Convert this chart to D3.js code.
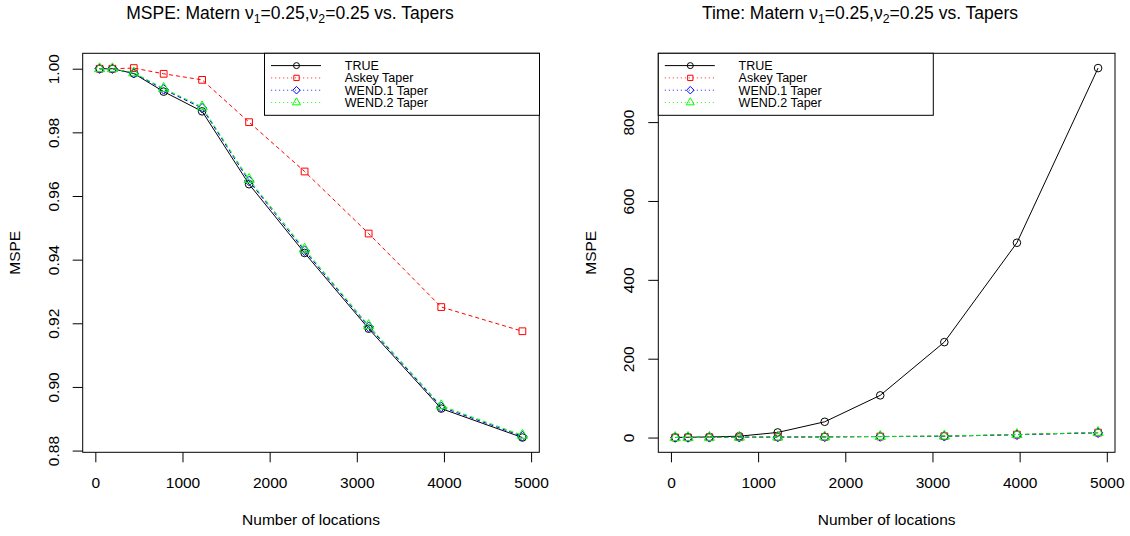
<!DOCTYPE html>
<html>
<head>
<meta charset="utf-8">
<script src="https://cdn.jsdelivr.net/npm/d3@7"></script>
<style>
  html, body { margin: 0; padding: 0; background: #fff; }
  svg { display: block; font-family: "Liberation Sans", Arial, Helvetica, sans-serif; }
</style>
</head>
<body>
<svg id="chart" width="1130" height="536"></svg>
<script>
// Number of spatial locations (grid sizes)
const locations = [49, 196, 441, 784, 1225, 1764, 2401, 3136, 3969, 4900];

// Mean squared prediction error
const mspeTrue  = [1.0000, 1.0000, 0.9985, 0.9928, 0.9866, 0.9637, 0.9421, 0.9183, 0.8932, 0.8841];
const mspeAskey = [1.0000, 1.0000, 1.0002, 0.9984, 0.9965, 0.9832, 0.9677, 0.9482, 0.9251, 0.9175];
const mspeWend1 = [1.0000, 1.0000, 0.9986, 0.9935, 0.9876, 0.9647, 0.9428, 0.9189, 0.8937, 0.8845];
const mspeWend2 = [1.0000, 1.0000, 0.9987, 0.9938, 0.9880, 0.9652, 0.9433, 0.9193, 0.8941, 0.8848];

// Computation time
const timeTrue  = [0.2, 0.8, 1.5, 3.5, 13, 40, 107, 242, 494, 937];
const timeAskey = [0.1, 0.3, 0.6, 0.9, 1.3, 1.8, 2.6, 3.5, 7.5, 12.5];
const timeWend1 = [0.1, 0.2, 0.5, 0.8, 1.2, 1.7, 2.5, 3.3, 7.2, 12.2];
const timeWend2 = [0.1, 0.3, 0.6, 0.9, 1.3, 1.9, 2.8, 3.8, 7.8, 13.0];

const seriesNames = ["TRUE", "Askey Taper", "WEND.1 Taper", "WEND.2 Taper"];
const xTicks = [0, 1000, 2000, 3000, 4000, 5000];
const mspeTicks = [0.88, 0.90, 0.92, 0.94, 0.96, 0.98, 1.00];
const timeTicks = [0, 200, 400, 600, 800];

const styles = [
  { color: "#000000", dash: null,  legendDash: null,      shape: "circle" },
  { color: "#FF0000", dash: "4,3", legendDash: "1.2,2.8", shape: "square" },
  { color: "#0000FF", dash: "4,3", legendDash: "1.2,2.8", shape: "diamond" },
  { color: "#00FF00", dash: "4,3", legendDash: "1.2,2.8", shape: "triangle" }
];

const svg = d3.select("#chart");
const FONT_TICK = 15.5, FONT_LAB = 15.5, FONT_MAIN = 17.5, FONT_LEG = 12.5;

// R-style plotting symbols scaled from a base radius
function symbolPath(shape, R) {
  const p = d3.path();
  if (shape === "circle") {
    p.moveTo(R, 0); p.arc(0, 0, R, 0, 2 * Math.PI);
  } else if (shape === "square") {
    const s = R * 0.886;
    p.rect(-s, -s, 2 * s, 2 * s);
  } else if (shape === "diamond") {
    const s = R * 1.253;
    p.moveTo(0, -s); p.lineTo(s, 0); p.lineTo(0, s); p.lineTo(-s, 0); p.closePath();
  } else {
    const r = R * 1.555, xc = r * Math.sqrt(3) / 2, yc = r / 2;
    p.moveTo(0, -r); p.lineTo(xc, yc); p.lineTo(-xc, yc); p.closePath();
  }
  return p.toString();
}

function padded(vals) {
  const lo = d3.min(vals), hi = d3.max(vals), r = hi - lo;
  return [lo - 0.04 * r, hi + 0.04 * r];
}

function drawPanel(cfg) {
  const { x0, x1, y0, y1 } = cfg.box;
  const g = svg.append("g");

  const x = d3.scaleLinear().domain(padded(locations)).range([x0, x1]);
  const y = d3.scaleLinear().domain(padded(cfg.series.flat())).range([y1, y0]);

  // series lines and symbols
  const line = d3.line().x((d, i) => x(locations[i])).y(d => y(d));
  cfg.series.forEach((vals, k) => {
    const st = styles[k];
    g.append("path")
      .attr("d", line(vals))
      .attr("fill", "none")
      .attr("stroke", st.color)
      .attr("stroke-width", 1)
      .attr("stroke-dasharray", st.dash);
    g.selectAll(null).data(vals).enter().append("path")
      .attr("transform", (d, i) => `translate(${x(locations[i])},${y(d)})`)
      .attr("d", symbolPath(st.shape, 3.8))
      .attr("fill", "none")
      .attr("stroke", st.color)
      .attr("stroke-width", 1);
  });

  // x axis
  const xa = g.append("g").attr("transform", `translate(0,${y1})`)
    .call(d3.axisBottom(x).tickValues(xTicks).tickSize(10).tickFormat(d3.format("d")));
  xa.select(".domain").remove();
  xa.selectAll("text").attr("y", 35.5).attr("dy", null)
    .attr("font-size", FONT_TICK).attr("font-family", null).attr("fill", "#000");

  // y axis with rotated labels
  const ya = g.append("g").attr("transform", `translate(${x0},0)`)
    .call(d3.axisLeft(y).tickValues(cfg.yTicks).tickSize(10).tickFormat(cfg.yFormat));
  ya.select(".domain").remove();
  ya.selectAll("text")
    .attr("x", null).attr("dy", "0.35em")
    .attr("transform", "translate(-29.5,0) rotate(-90)")
    .attr("text-anchor", "middle")
    .attr("font-size", FONT_TICK).attr("font-family", null).attr("fill", "#000");
  g.selectAll(".tick line").attr("stroke", "#000");

  // plot frame
  g.append("rect").attr("x", x0).attr("y", y0).attr("width", x1 - x0).attr("height", y1 - y0)
    .attr("fill", "none").attr("stroke", "#000").attr("stroke-width", 1);

  // titles
  const t = g.append("text").attr("x", cfg.titleX).attr("y", 19)
    .attr("text-anchor", "middle").attr("font-size", FONT_MAIN);
  t.append("tspan").text(cfg.titlePrefix + " Matern ");
  t.append("tspan").text("\u03BD");
  t.append("tspan").attr("font-size", FONT_MAIN * 0.7).attr("dy", 4).text("1");
  t.append("tspan").attr("dy", -4).text("=0.25,\u03BD");
  t.append("tspan").attr("font-size", FONT_MAIN * 0.7).attr("dy", 4).text("2");
  t.append("tspan").attr("dy", -4).text("=0.25 vs. Tapers");

  g.append("text").attr("x", (x0 + x1) / 2).attr("y", y1 + 73)
    .attr("text-anchor", "middle").attr("font-size", FONT_LAB).text("Number of locations");
  g.append("text")
    .attr("transform", `translate(${x0 - 68},${(y0 + y1) / 2}) rotate(-90)`)
    .attr("dy", "0.35em")
    .attr("text-anchor", "middle").attr("font-size", FONT_LAB).text(cfg.yLabel);

  // legend
  const lg = g.append("g").attr("transform", `translate(${cfg.legendX},${y0})`);
  lg.append("rect").attr("width", 275).attr("height", 62)
    .attr("fill", "#fff").attr("stroke", "#000").attr("stroke-width", 1);
  seriesNames.forEach((name, k) => {
    const st = styles[k];
    const ry = 12.3 + k * 12.3;
    lg.append("line").attr("x1", 6.5).attr("x2", 56.5).attr("y1", ry).attr("y2", ry)
      .attr("stroke", st.color).attr("stroke-width", 1)
      .attr("stroke-opacity", k === 0 ? 1 : 0.75)
      .attr("stroke-dasharray", st.legendDash);
    lg.append("path").attr("transform", `translate(32,${ry})`)
      .attr("d", symbolPath(st.shape, 3))
      .attr("fill", "none").attr("stroke", st.color).attr("stroke-width", 1);
    lg.append("text").attr("x", 80.3).attr("y", ry).attr("dy", "0.35em")
      .attr("font-size", FONT_LEG).text(name);
  });
}

drawPanel({
  box: { x0: 82.7, x1: 539.3, y0: 53.3, y1: 452.3 },
  series: [mspeTrue, mspeAskey, mspeWend1, mspeWend2],
  yTicks: mspeTicks, yFormat: d3.format(".2f"),
  yLabel: "MSPE", titlePrefix: "MSPE:", titleX: 290, legendX: 264.5
});

drawPanel({
  box: { x0: 658.3, x1: 1115, y0: 53.3, y1: 452.3 },
  series: [timeTrue, timeAskey, timeWend1, timeWend2],
  yTicks: timeTicks, yFormat: d3.format("d"),
  yLabel: "MSPE", titlePrefix: "Time:", titleX: 860, legendX: 658.3
});
</script>
</body>
</html>
